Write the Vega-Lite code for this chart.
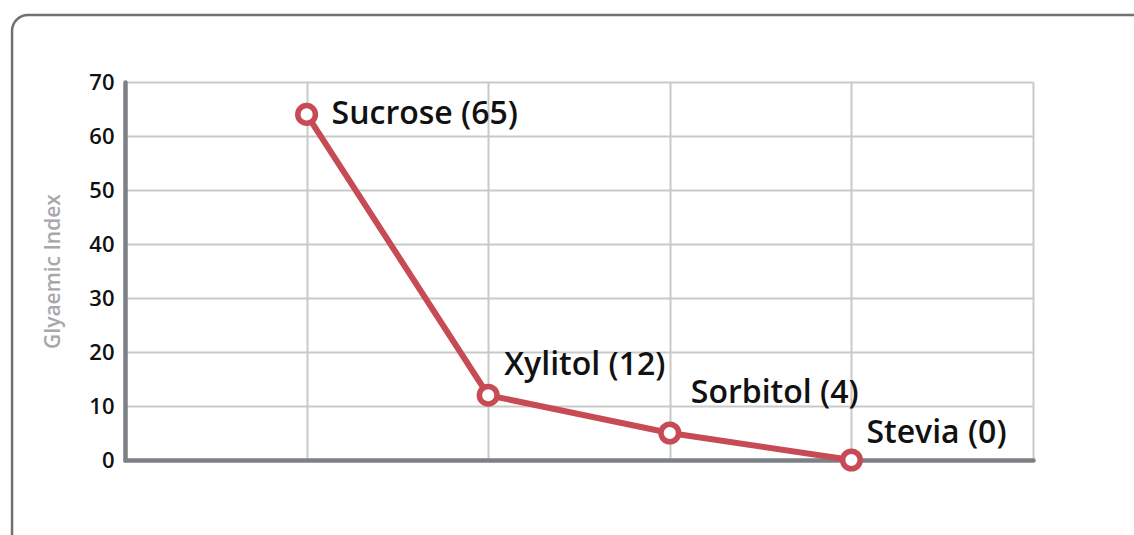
{
  "$schema": "https://vega.github.io/schema/vega-lite/v6.json",
  "width": 908,
  "height": 378,
  "autosize": {"type": "none"},
  "padding": {"left": 125, "top": 82, "right": 101, "bottom": 75},
  "background": "white",
  "config": {
    "view": {"stroke": null},
    "font": "Open Sans"
  },
  "datasets": {
    "gi": [
      {"order": 1, "name": "Sucrose", "value": 64, "label": "Sucrose (65)"},
      {"order": 2, "name": "Xylitol", "value": 12, "label": "Xylitol (12)"},
      {"order": 3, "name": "Sorbitol", "value": 5, "label": "Sorbitol (4)"},
      {"order": 4, "name": "Stevia", "value": 0, "label": "Stevia (0)"}
    ],
    "frame": [
      {"x0": -0.622, "x1": 6.2, "y0": -18, "y1": 82.4}
    ]
  },
  "encoding": {
    "x": {
      "field": "order",
      "type": "quantitative",
      "scale": {"domain": [0, 5], "nice": false, "zero": false},
      "axis": {
        "values": [1, 2, 3, 4, 5],
        "labels": false,
        "ticks": false,
        "title": null,
        "grid": true,
        "gridColor": "#c8cac9",
        "gridWidth": 2,
        "domainColor": "#7d8186",
        "domainWidth": 4.5,
        "domainCap": "round"
      }
    },
    "y": {
      "field": "value",
      "type": "quantitative",
      "scale": {"domain": [0, 70], "nice": false},
      "axis": {
        "values": [0, 10, 20, 30, 40, 50, 60, 70],
        "ticks": false,
        "grid": true,
        "gridColor": "#c8cac9",
        "gridWidth": 2,
        "domainColor": "#7d8186",
        "domainWidth": 4.5,
        "domainCap": "round",
        "labelFont": "Open Sans",
        "labelFontSize": 22,
        "labelFontWeight": 600,
        "labelColor": "#111111",
        "labelPadding": 11,
        "title": "Glyaemic Index",
        "titleFont": "Open Sans",
        "titleFontSize": 21,
        "titleFontWeight": 600,
        "titleColor": "#a6a8aa",
        "titlePadding": 25
      }
    }
  },
  "layer": [
    {
      "data": {"name": "frame"},
      "mark": {"type": "rect", "fill": null, "stroke": "#6d7075", "strokeWidth": 2.5, "cornerRadius": 16, "clip": false},
      "encoding": {
        "x": {"field": "x0", "type": "quantitative"},
        "x2": {"field": "x1"},
        "y": {"field": "y0", "type": "quantitative"},
        "y2": {"field": "y1"}
      }
    },
    {
      "data": {"name": "gi"},
      "mark": {"type": "line", "color": "#c64b55", "strokeWidth": 6, "clip": false}
    },
    {
      "data": {"name": "gi"},
      "mark": {"type": "point", "shape": "circle", "filled": true, "fill": "white", "stroke": "#c64b55", "strokeWidth": 5.5, "size": 310, "opacity": 1, "clip": false}
    },
    {
      "data": {"name": "gi"},
      "transform": [{"filter": "datum.name === 'Sucrose'"}],
      "mark": {"type": "text", "align": "left", "baseline": "middle", "dx": 25, "dy": 0, "fontSize": 32, "fontWeight": 600, "color": "#111111", "font": "Open Sans"},
      "encoding": {"text": {"field": "label"}}
    },
    {
      "data": {"name": "gi"},
      "transform": [{"filter": "datum.name === 'Xylitol'"}],
      "mark": {"type": "text", "align": "left", "baseline": "middle", "dx": 16, "dy": -30, "fontSize": 32, "fontWeight": 600, "color": "#111111", "font": "Open Sans"},
      "encoding": {"text": {"field": "label"}}
    },
    {
      "data": {"name": "gi"},
      "transform": [{"filter": "datum.name === 'Sorbitol'"}],
      "mark": {"type": "text", "align": "left", "baseline": "middle", "dx": 21, "dy": -40, "fontSize": 32, "fontWeight": 600, "color": "#111111", "font": "Open Sans"},
      "encoding": {"text": {"field": "label"}}
    },
    {
      "data": {"name": "gi"},
      "transform": [{"filter": "datum.name === 'Stevia'"}],
      "mark": {"type": "text", "align": "left", "baseline": "middle", "dx": 15, "dy": -27, "fontSize": 32, "fontWeight": 600, "color": "#111111", "font": "Open Sans"},
      "encoding": {"text": {"field": "label"}}
    }
  ]
}
